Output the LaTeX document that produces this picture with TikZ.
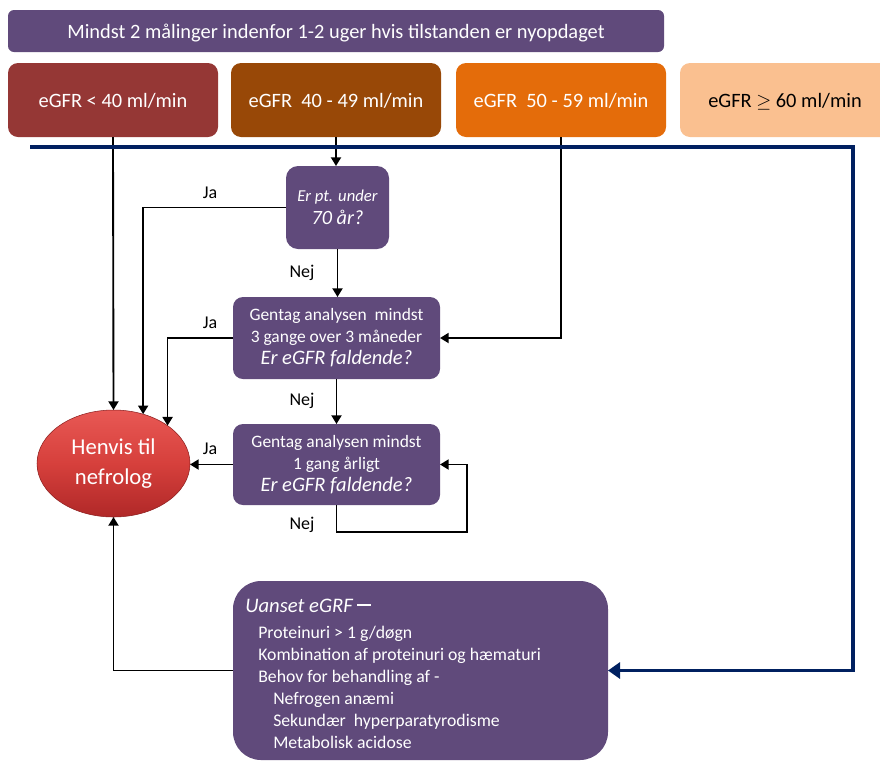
\documentclass[tikz,border=0pt]{standalone}
\usepackage{fontspec}
\setmainfont{Carlito}
\usetikzlibrary{arrows.meta,shapes.geometric}
\definecolor{purp}{RGB}{96,74,123}
\definecolor{cA}{RGB}{149,55,53}
\definecolor{cB}{RGB}{152,72,7}
\definecolor{cC}{RGB}{228,108,10}
\definecolor{cD}{RGB}{250,192,144}
\definecolor{navy}{RGB}{0,32,96}
\definecolor{elTop}{RGB}{232,88,84}
\definecolor{elMid}{RGB}{214,64,60}
\definecolor{elBot}{RGB}{176,40,40}
\tikzset{
  band/.style={rectangle,rounded corners=7.5pt,minimum width=157.5pt,minimum height=55.5pt,inner sep=0pt,outer sep=0pt,text=white,text depth=0pt,font=\fontsize{15.3}{18}\selectfont},
  qbox/.style={rectangle,fill=purp,text=white,align=center,inner sep=0pt,outer sep=0pt,rounded corners=7.5pt},
  flow/.style={draw=black,line width=1.4pt,-{Triangle[length=6.5pt,width=7.5pt]}},
  lbl/.style={font=\fontsize{13.5}{16}\selectfont,inner sep=0pt},
}
\begin{document}
\begin{tikzpicture}[x=0.75pt,y=-0.75pt]
\useasboundingbox (0,0) rectangle (880,761);
% header
\node[rectangle,fill=purp,rounded corners=4.5pt,minimum width=492pt,minimum height=31.5pt,inner sep=0pt,text=white,text depth=0pt,font=\fontsize{15.3}{18}\selectfont] (top) at (336,31) {Mindst 2 målinger indenfor 1-2 uger hvis tilstanden er nyopdaget};
% bands
\node[band,fill=cA] (b1) at (113,100) {eGFR < 40 ml/min};
\node[band,fill=cB] (b2) at (336,100) {eGFR\ \ 40 - 49 ml/min};
\node[band,fill=cC] (b3) at (561,100) {eGFR\ \ 50 - 59 ml/min};
\node[band,fill=cD,text=black] (b4) at (785,100) {eGFR $\geq$ 60 ml/min};
% question boxes
\node[qbox,rounded corners=9pt,minimum width=77.25pt,minimum height=62.25pt,font=\fontsize{12.5}{17}\selectfont] (q1) at (337.5,207.5)
  {{\itshape Er pt. under}\\{\fontsize{15.2}{17}\selectfont\itshape 70 år?}};
\node[qbox,minimum width=155.25pt,minimum height=61.5pt,font=\fontsize{13.1}{16.5}\selectfont] (g3) at (336.5,338)
  {Gentag analysen\ \ mindst\\3 gange over 3 måneder\\{\fontsize{15.4}{16.5}\selectfont\itshape Er eGFR faldende?}};
\node[qbox,minimum width=155.25pt,minimum height=60.75pt,font=\fontsize{13.1}{16.5}\selectfont] (g1) at (336.5,464.5)
  {Gentag analysen mindst\\1 gang årligt\\{\fontsize{15.4}{16.5}\selectfont\itshape Er eGFR faldende?}};
% ellipse
\node[ellipse,minimum width=114.75pt,minimum height=80.25pt,inner sep=0pt,outer sep=0pt,top color=elTop,bottom color=elBot,middle color=elMid,draw=elBot!80!black,line width=0.4pt,text=white,align=center,font=\fontsize{17}{22}\selectfont] (ell) at (113.5,463.5) {Henvis til\\nefrolog};
% bottom box
\node[rectangle,fill=purp,rounded corners=21pt,minimum width=281.25pt,minimum height=134.25pt,inner sep=0pt,outer sep=0pt] (U) at (420.5,670.5) {};
\node[anchor=north west,align=left,text=white,inner sep=0pt,font=\fontsize{13.3}{16.5}\selectfont] (Ut) at (245,599)
  {{\fontsize{15.5}{16.5}\selectfont\itshape Uanset eGRF}\hspace{3.5pt}\raisebox{5pt}{\rule{10.5pt}{1.5pt}}\\[3pt]
   \hspace*{9.75pt}Proteinuri > 1 g/døgn\\
   \hspace*{9.75pt}Kombination af proteinuri og hæmaturi\\
   \hspace*{9.75pt}Behov for behandling af -\\
   \hspace*{21pt}Nefrogen anæmi\\
   \hspace*{21pt}Sekundær\ \ hyperparatyrodisme\\
   \hspace*{21pt}Metabolisk acidose};
% connectors
\draw[flow] (b1.south) -- (ell.north);
\draw[flow] (b2.south) -- (b2.south |- q1.north);
\draw[flow] (q1.west) -| (ell.59);
\draw[flow] (q1.south) -- (q1.south |- g3.north);
\draw[flow] (b3.south) |- (g3.east);
\draw[flow] (g3.west) -| (ell.35.5);
\draw[flow] (g3.south) -- (g3.south |- g1.north);
\draw[flow] (g1.west) -- (g1.west -| ell.east);
\coordinate (lp) at (467,532);
\draw[flow] (g1.south) |- (lp) |- (g1.east);
\draw[flow] (U.west) -| (ell.south);
% navy line
\coordinate (bl) at (30,147);
\coordinate (br) at (853,147);
\draw[draw=navy,line width=2.6pt,-{Triangle[length=9pt,width=12pt]}] (bl) -- (br) |- (U.east);
% labels
\node[lbl] (ja1) at (210,193) {Ja};
\node[lbl] (ja2) at (210,323) {Ja};
\node[lbl] (ja3) at (210,449) {Ja};
\node[lbl] (nej1) at (302,273) {Nej};
\node[lbl] (nej2) at (302,401) {Nej};
\node[lbl] (nej3) at (302,525) {Nej};
\end{tikzpicture}
\end{document}
